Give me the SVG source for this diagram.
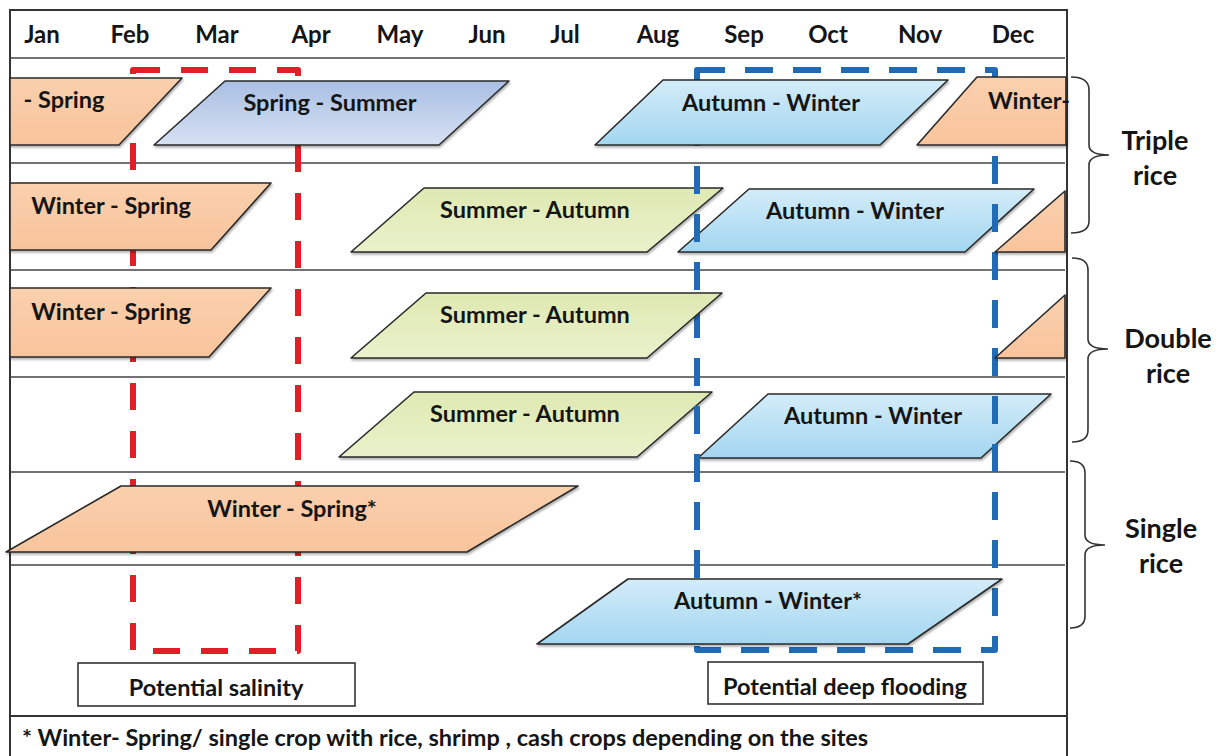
<svg xmlns="http://www.w3.org/2000/svg" width="1222" height="756" viewBox="0 0 1222 756">
<defs>
<style>
.t{font-family:Lato,"Liberation Sans","DejaVu Sans",sans-serif;font-weight:700;fill:#151515;text-anchor:middle}
.s{font-size:23.5px}
.m{font-size:24px}
.side{font-size:27px}
.shape{stroke:#2a2a2a;stroke-width:1.6;stroke-linejoin:round;filter:url(#sh)}
.or{fill:url(#gOr)}
.bl{fill:url(#gBl)}
.gr{fill:url(#gGr)}
.pu{fill:url(#gPu)}
.row{stroke:#444;stroke-width:1.6;fill:none}
.brace{stroke:#333;stroke-width:1.6;fill:none}
.box{fill:#fff;stroke:#333;stroke-width:1.6}
</style>
<linearGradient id="gOr" x1="0" y1="0" x2="0" y2="1"><stop offset="0" stop-color="#fad0ad"/><stop offset="1" stop-color="#f8c49c"/></linearGradient>
<linearGradient id="gBl" x1="0" y1="0" x2="0" y2="1"><stop offset="0" stop-color="#d3ecf9"/><stop offset="1" stop-color="#a3d6f0"/></linearGradient>
<linearGradient id="gGr" x1="0" y1="0" x2="0" y2="1"><stop offset="0" stop-color="#dfe9b2"/><stop offset="1" stop-color="#eaf1cb"/></linearGradient>
<linearGradient id="gPu" x1="0" y1="0" x2="0" y2="1"><stop offset="0" stop-color="#a9bfe3"/><stop offset="1" stop-color="#d6e1f3"/></linearGradient>
<filter id="sh" x="-5%" y="-10%" width="110%" height="130%"><feDropShadow dx="1" dy="2" stdDeviation="1.2" flood-color="#000" flood-opacity="0.3"/></filter>
</defs>
<rect width="1222" height="756" fill="#fff"/>

<g id="grid">
<rect x="10" y="10" width="1057" height="760" fill="none" stroke="#333" stroke-width="2"/>
<line class="row" x1="10" y1="58" x2="1065" y2="58"/>
<line class="row" x1="10" y1="163" x2="1065" y2="163"/>
<line class="row" x1="10" y1="270" x2="1065" y2="270"/>
<line class="row" x1="10" y1="377" x2="1065" y2="377"/>
<line class="row" x1="10" y1="472" x2="1065" y2="472"/>
<line class="row" x1="10" y1="565" x2="1065" y2="565"/>
<line x1="10" y1="716" x2="1067" y2="716" stroke="#333" stroke-width="2.2"/>
</g>

<g id="months" class="t m">
<text x="42" y="43">Jan</text>
<text x="130" y="43">Feb</text>
<text x="217" y="43">Mar</text>
<text x="311" y="43">Apr</text>
<text x="400" y="43">May</text>
<text x="487" y="43">Jun</text>
<text x="565" y="43">Jul</text>
<text x="658" y="43">Aug</text>
<text x="744" y="43">Sep</text>
<text x="828" y="43">Oct</text>
<text x="920" y="43">Nov</text>
<text x="1013" y="43">Dec</text>
</g>

<g id="salinity-zone">
<rect x="133" y="70" width="165" height="581" fill="none" stroke="#e31e26" stroke-width="6" stroke-dasharray="27 21" stroke-linejoin="round"/>
</g>

<g id="r2-summer-autumn"><polygon class="shape gr" points="424,188 723,188 647,252 351,252"/><text class="t s" x="535" y="218">Summer - Autumn</text></g>
<g id="r2-autumn-winter"><polygon class="shape bl" points="749,189 1034,189 965,252 678,252"/><text class="t s" x="855" y="219">Autumn - Winter</text></g>
<g id="r4-summer-autumn"><polygon class="shape gr" points="414,392 712,392 637,457 339,457"/><text class="t s" x="525" y="422">Summer - Autumn</text></g>
<g id="r4-autumn-winter"><polygon class="shape bl" points="768,394 1051,394 981,458 698,458"/><text class="t s" x="873" y="424">Autumn - Winter</text></g>

<g id="flooding-zone">
<rect x="697" y="70" width="298" height="580" fill="none" stroke="#1f6bb5" stroke-width="6" stroke-dasharray="28 20" stroke-linejoin="round"/>
</g>

<g id="r1-spring"><polygon class="shape or" points="10,78 182,78 119,145 10,145"/><text class="t s" x="64" y="108">- Spring</text></g>
<g id="r1-spring-summer"><polygon class="shape pu" points="225,81 509,81 439,145 154,145"/><text class="t s" x="330" y="111">Spring - Summer</text></g>
<g id="r1-autumn-winter"><polygon class="shape bl" points="663,80 948,80 880,145 595,145"/><text class="t s" x="771" y="111">Autumn - Winter</text></g>
<g id="r1-winter"><polygon class="shape or" points="977,77 1066,77 1066,145 917,145"/><text class="t s" x="988" y="109" style="text-anchor:start">Winter-</text></g>
<g id="r2-winter-spring"><polygon class="shape or" points="10,183 271,183 211,250 10,250"/><text class="t s" x="111" y="214">Winter - Spring</text></g>
<g id="r2-winter-tail"><polygon class="shape or" points="1065,191 1065,252 995,252"/></g>
<g id="r3-winter-spring"><polygon class="shape or" points="10,288 271,288 209,357 10,357"/><text class="t s" x="111" y="320">Winter - Spring</text></g>
<g id="r3-summer-autumn"><polygon class="shape gr" points="426,293 722,293 647,358 351,358"/><text class="t s" x="535" y="323">Summer - Autumn</text></g>
<g id="r3-winter-tail"><polygon class="shape or" points="1065,295 1065,358 995,358"/></g>
<g id="r5-winter-spring"><polygon class="shape or" points="121,486 578,486 467,552 6,552"/><text class="t s" x="292" y="517">Winter - Spring*</text></g>
<g id="r6-autumn-winter"><polygon class="shape bl" points="628,579 1002,579 908,644 537,644"/><text class="t s" x="768" y="609">Autumn - Winter*</text></g>

<g id="label-salinity"><rect class="box" x="78" y="663" width="277" height="43"/><text class="t s" x="216" y="696">Potential salinity</text></g>
<g id="label-flooding"><rect class="box" x="708" y="662" width="275" height="42"/><text class="t s" x="845" y="695">Potential deep flooding</text></g>

<g id="footnote"><text class="t s" x="22" y="746" style="text-anchor:start">* Winter- Spring/ single crop with rice, shrimp , cash crops depending on the sites</text></g>

<g id="triple"><path class="brace" d="M1071,77 Q1089,77 1089,90 L1089,145 Q1089,155 1109,155 Q1089,155 1089,165 L1089,221 Q1089,233 1071,233"/><text class="t side" x="1155" y="150">Triple</text><text class="t side" x="1155" y="185">rice</text></g>
<g id="double"><path class="brace" d="M1072,258 Q1088,258 1088,270 L1088,339 Q1088,349 1108,349 Q1088,349 1088,359 L1088,430 Q1088,442 1072,442"/><text class="t side" x="1168" y="348">Double</text><text class="t side" x="1168" y="383">rice</text></g>
<g id="single"><path class="brace" d="M1070,461 Q1085,461 1085,473 L1085,535 Q1085,545 1105,545 Q1085,545 1085,555 L1085,616 Q1085,628 1070,628"/><text class="t side" x="1161" y="538">Single</text><text class="t side" x="1161" y="573">rice</text></g>
</svg>
